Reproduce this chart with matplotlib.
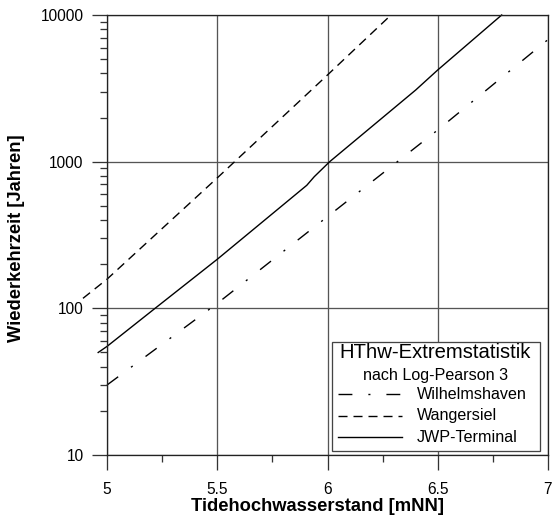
import matplotlib
matplotlib.use("Agg")
import matplotlib.pyplot as plt
from matplotlib.patches import Rectangle
from matplotlib.ticker import FixedLocator, LogLocator, NullFormatter

plt.rcParams["font.family"] = ["Liberation Sans", "DejaVu Sans"]
plt.rcParams["lines.scale_dashes"] = False

# ---------------------------------------------------------------------
# Data (Wiederkehrzeit vs. Tidehochwasserstand)
# ---------------------------------------------------------------------
whv_x = [5.0, 5.5, 6.0, 6.5, 7.0]
whv_y = [30, 108, 422, 1645, 6800]

wang_x = [4.891, 5.0, 5.5, 6.0, 6.288]
wang_y = [117, 158, 775, 3900, 10000]

jwp_x = [4.96, 5.0, 5.218, 5.5, 5.906, 5.94, 6.01, 6.4, 6.5, 6.79]
jwp_y = [50, 55, 100, 216, 690, 790, 1000, 3080, 4220, 10000]

x_ticks = [5, 5.5, 6, 6.5, 7]
x_ticklabels = ["5", "5.5", "6", "6.5", "7"]
y_ticks = [10, 100, 1000, 10000]
y_ticklabels = ["10", "100", "1000", "10000"]

series_names = ["Wilhelmshaven", "Wangersiel", "JWP-Terminal"]

px = 0.72  # one pixel in points at dpi 100
lw = 1.0
dashdot = (0, (10.0, 11.5, 1.5, 11.5))
dashed = (0, (6.5, 4.3))

fig = plt.figure(figsize=(5.52, 5.18), dpi=100)
ax = fig.add_axes([107 / 552, 63 / 518, 441 / 552, 440 / 518])

ax.plot(whv_x, whv_y, color="black", lw=lw, linestyle=dashdot, clip_on=False)
ax.plot(wang_x, wang_y, color="black", lw=lw, linestyle=dashed, clip_on=False)
ax.plot(jwp_x, jwp_y, color="black", lw=lw, linestyle="-", clip_on=False)

ax.set_yscale("log")
ax.set_xlim(5, 7)
ax.set_ylim(10, 10000)

ax.xaxis.set_major_locator(FixedLocator(x_ticks))
ax.set_xticklabels(x_ticklabels)
ax.xaxis.set_minor_locator(FixedLocator([5.25, 5.75, 6.25, 6.75]))
ax.yaxis.set_major_locator(FixedLocator(y_ticks))
ax.set_yticklabels(y_ticklabels)
ax.yaxis.set_minor_locator(LogLocator(base=10, subs=range(2, 10)))
ax.yaxis.set_minor_formatter(NullFormatter())

ax.tick_params(which="major", direction="out", length=15 * px, width=1.3 * px,
               labelsize=11.2, pad=6, color="#333333")
ax.tick_params(which="minor", direction="out", length=7 * px, width=1.3 * px,
               color="#333333")
ax.tick_params(axis="x", which="major", pad=9)

ax.grid(True, which="major", color="#555555", lw=1.3 * px)
for s in ax.spines.values():
    s.set_linewidth(1.3 * px)
    s.set_color("#222222")

ax.set_xlabel("Tidehochwasserstand [mNN]", fontsize=13.2, fontweight="bold")
ax.xaxis.set_label_coords(0.478, -0.097)
ax.set_ylabel("Wiederkehrzeit [Jahren]", fontsize=13.2, fontweight="bold")
ax.yaxis.set_label_coords(-0.186, 0.493)

# legend box drawn by hand (two title lines with different sizes)
tr = ax.transAxes
ax.add_patch(Rectangle((0.5095, 0.0098), 0.4725, 0.2477, transform=tr,
                       facecolor="white", edgecolor="#444444", lw=1.3 * px,
                       zorder=5))
ax.text(0.745, 0.233, "HThw-Extremstatistik", transform=tr, ha="center",
        va="center", fontsize=14.6, zorder=6)
ax.text(0.745, 0.181, "nach Log-Pearson 3", transform=tr, ha="center",
        va="center", fontsize=11.6, zorder=6)
styles = [dashdot, dashed, "-"]
rows = [0.138, 0.089, 0.040]
for name, ls, yy in zip(series_names, styles, rows):
    ax.plot([0.524, 0.669], [yy, yy], transform=tr, color="black", lw=lw,
            linestyle=ls, zorder=6)
    ax.text(0.703, yy, name, transform=tr, ha="left", va="center",
            fontsize=11.6, zorder=6)

fig.savefig("out.png", dpi=100)
